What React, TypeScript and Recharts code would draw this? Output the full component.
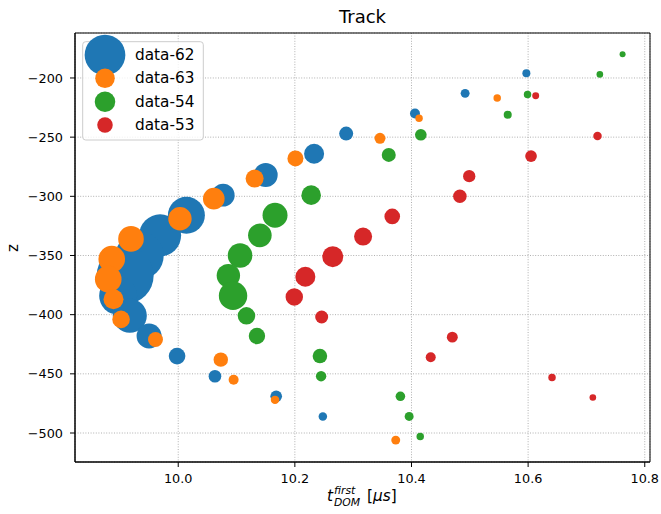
import React from 'react';
import {
  ScatterChart,
  Scatter,
  XAxis,
  YAxis,
  ZAxis,
  CartesianGrid,
  ReferenceArea,
} from 'recharts';

// hit times [µs], depths [m] and pulse charge (marker area ∝ charge) per string
const t62 = [10.597, 10.492, 10.406, 10.288, 10.233, 10.150, 10.077, 10.014, 9.969, 9.934, 9.909, 9.897, 9.917, 9.950, 9.998, 10.063, 10.168, 10.248];
const z62 = [-196, -213, -230, -247, -264, -282, -299, -316, -333, -350, -367, -384, -401, -418, -435, -452, -469, -486];
const q62 = [16, 20, 25, 49, 100, 144, 132, 342, 441, 576, 812, 361, 289, 156, 69, 40, 34, 18];

const t63 = [10.547, 10.413, 10.346, 10.201, 10.131, 10.061, 10.003, 9.919, 9.886, 9.880, 9.889, 9.902, 9.961, 10.073, 10.095, 10.166, 10.373];
const z63 = [-217, -234, -251, -268, -285, -302, -319, -336, -353, -370, -387, -404, -421, -438, -455, -472, -506];
const q63 = [14, 14, 30, 64, 81, 117, 137, 164, 177, 177, 100, 77, 56, 52, 25, 18, 20];

const t54 = [10.762, 10.723, 10.599, 10.565, 10.416, 10.361, 10.228, 10.166, 10.140, 10.106, 10.086, 10.094, 10.117, 10.135, 10.243, 10.245, 10.381, 10.396, 10.415];
const z54 = [-180, -197, -214, -231, -248, -265, -299, -316, -333, -350, -367, -384, -401, -418, -435, -452, -469, -486, -503];
const q54 = [9, 11, 14, 16, 34, 49, 96, 156, 139, 151, 137, 202, 77, 67, 53, 27, 23, 20, 14];

const t53 = [10.613, 10.719, 10.605, 10.499, 10.483, 10.367, 10.317, 10.265, 10.218, 10.199, 10.246, 10.470, 10.433, 10.641, 10.711];
const z53 = [-215, -249, -266, -283, -300, -317, -334, -351, -368, -385, -402, -419, -436, -453, -470];
const q53 = [12, 18, 34, 38, 46, 61, 81, 110, 100, 76, 42, 30, 25, 14, 11];

const seriesNames = ['data-62', 'data-63', 'data-54', 'data-53'];
const seriesColors = ['#1f77b4', '#ff7f0e', '#2ca02c', '#d62728'];

const xTicks = [10.0, 10.2, 10.4, 10.6, 10.8];
const yTicks = [-500, -450, -400, -350, -300, -250, -200];

const build = (t: number[], z: number[], q: number[]) =>
  t.map((v, i) => ({ t: v, z: z[i], q: q[i] }));

const series = [
  build(t62, z62, q62),
  build(t63, z63, q63),
  build(t54, z54, q54),
  build(t53, z53, q53),
];

const FONT = 'DejaVu Sans, sans-serif';

const dot = (color: string) => (p: any) => {
  const r = p.size != null ? Math.sqrt(Math.max(p.size, 0) / Math.PI) : (p.width || 0) / 2;
  return <circle cx={p.cx} cy={p.cy} r={r} fill={color} />;
};

const fmtY = (v: number) => (v < 0 ? '\u2212' + Math.abs(v) : String(v));

export default function App() {
  const tickStyle = { fontSize: 12.8, fontFamily: FONT, fill: '#000' };

  // legend marker uses the mean of the smallest and largest marker area
  const legendR = series.map(s => {
    const qs = s.map(d => d.q);
    return Math.sqrt((Math.max(...qs) + Math.min(...qs)) / 2);
  });

  return (
    <div style={{ position: 'absolute', left: 0, top: 0, width: 661, height: 514, background: '#fff' }}>
      <ScatterChart width={661} height={514} margin={{ top: 33, right: 11, bottom: 0, left: 0 }}>
        <CartesianGrid stroke="#b0b0b0" strokeDasharray="1 1.6" />
        <XAxis
          type="number"
          dataKey="t"
          domain={[9.823, 10.809]}
          allowDataOverflow
          ticks={xTicks}
          tickFormatter={(v: number) => v.toFixed(1)}
          height={52}
          tick={tickStyle}
          tickSize={5}
          tickMargin={7}
          stroke="#000"
          axisLine={{ stroke: '#000' }}
          tickLine={{ stroke: '#000' }}
        />
        <YAxis
          type="number"
          dataKey="z"
          domain={[-524.5, -162]}
          allowDataOverflow
          ticks={yTicks}
          tickFormatter={fmtY}
          width={75}
          tick={tickStyle}
          tickSize={5}
          tickMargin={7}
          stroke="#000"
          axisLine={{ stroke: '#000' }}
          tickLine={{ stroke: '#000' }}
        />
        <ZAxis type="number" dataKey="q" domain={[0, 1000]} range={[0, 1000 * Math.PI]} scale="linear" />
        {series.map((data, i) => (
          <Scatter
            key={seriesNames[i]}
            name={seriesNames[i]}
            data={data}
            fill={seriesColors[i]}
            shape={dot(seriesColors[i])}
            isAnimationActive={false}
          />
        ))}
        <ReferenceArea x1={9.823} x2={10.809} y1={-524.5} y2={-162} fill="none" stroke="#000" strokeWidth={1} ifOverflow="visible" />
      </ScatterChart>

      <svg width={661} height={514} style={{ position: 'absolute', left: 0, top: 0, pointerEvents: 'none' }}>
        <text x={362.5} y={22.7} textAnchor="middle" fontFamily={FONT} fontSize={18} fill="#000">Track</text>

        <text transform="translate(17.5,248) rotate(-90)" textAnchor="middle" fontFamily={FONT} fontSize={15.3} fill="#000">z</text>

        <text fontFamily={FONT} fill="#000">
          <tspan x={327} y={500.5} fontSize={15.3} fontStyle="italic">t</tspan>
          <tspan x={334} y={493.8} fontSize={10.8} fontStyle="italic">first</tspan>
          <tspan x={334} y={506.3} fontSize={10.8} fontStyle="italic">DOM</tspan>
          <tspan x={367} y={500.5} fontSize={15.3}>[</tspan>
          <tspan fontSize={15.3} fontStyle="italic">μs</tspan>
          <tspan fontSize={15.3}>]</tspan>
        </text>

        <rect x={82.7} y={41.7} width={120.6} height={98.3} rx={3} fill="#fff" fillOpacity={0.8} stroke="#cccccc" />
        {seriesNames.map((name, i) => {
          const cy = 55 + i * 23.35;
          return (
            <g key={name}>
              <circle cx={105} cy={cy} r={legendR[i]} fill={seriesColors[i]} />
              <text x={135} y={cy} dominantBaseline="central" fontFamily={FONT} fontSize={15.3} fill="#000">{name}</text>
            </g>
          );
        })}
      </svg>
    </div>
  );
}
